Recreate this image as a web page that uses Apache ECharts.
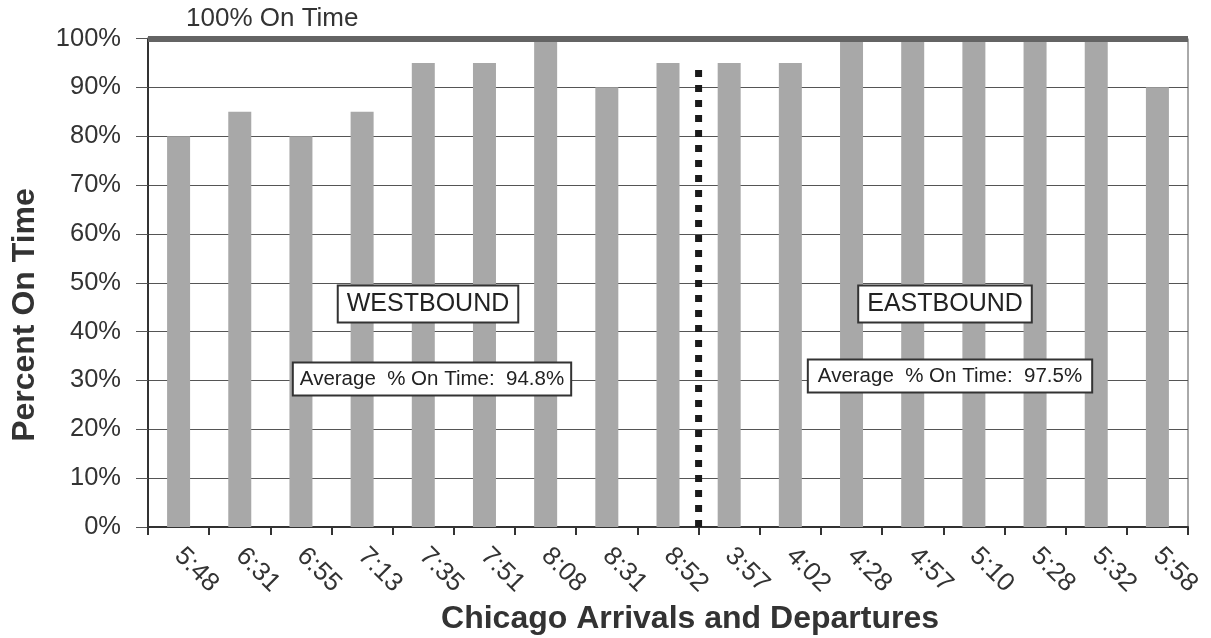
<!DOCTYPE html>
<html>
<head>
<meta charset="utf-8">
<script src="https://cdn.jsdelivr.net/npm/echarts@6/dist/echarts.min.js"></script>
<style>
  html, body { margin: 0; padding: 0; background: #fff; }
  #chart { width: 1211px; height: 638px; }
</style>
</head>
<body>
<div id="chart"></div>
<script>
// Train times at Chicago, westbound first then eastbound
const categories = ['5:48', '6:31', '6:55', '7:13', '7:35', '7:51', '8:08', '8:31', '8:52',
                    '3:57', '4:02', '4:28', '4:57', '5:10', '5:28', '5:32', '5:58'];
// Percent on time for each train
const onTime = [80, 85, 80, 85, 95, 95, 100, 90, 95,
                95, 95, 100, 100, 100, 100, 100, 90];
const yTicks = [0, 10, 20, 30, 40, 50, 60, 70, 80, 90, 100];
// Divider between westbound and eastbound (category boundary index) and its height
const dividerAt = 9;
const dividerTop = 94;
const westAvg = '94.8%';
const eastAvg = '97.5%';

const font = '"Liberation Sans", Arial, sans-serif';
const chart = echarts.init(document.getElementById('chart'));

function boxText(x, y, text, size, pad) {
  return {
    type: 'text', x: x, y: y, z: 100,
    style: {
      text: text, fontSize: size, fill: '#222', fontFamily: font,
      align: 'center', verticalAlign: 'middle',
      backgroundColor: '#fff', borderColor: '#333', borderWidth: 2, padding: pad
    }
  };
}

chart.setOption({
  animation: false,
  backgroundColor: '#ffffff',
  grid: {
    left: 148, right: 23, top: 38.5, bottom: 111,
    outerBoundsMode: 'none',
    show: true, borderColor: '#555', borderWidth: 1
  },
  xAxis: [{
    type: 'category',
    data: categories,
    axisLine: { lineStyle: { color: '#333', width: 2 } },
    axisTick: { show: true, length: 8, lineStyle: { color: '#333', width: 2 } },
    axisLabel: { rotate: -45, fontSize: 26, color: '#333', fontFamily: font, margin: 25 }
  }, {
    type: 'value', min: 0, max: categories.length, show: false
  }],
  yAxis: {
    type: 'value',
    min: 0, max: 100, interval: 10,
    axisLine: { show: true, lineStyle: { color: '#333', width: 2 } },
    axisTick: { show: true, inside: false, length: 12, lineStyle: { color: '#555' } },
    axisLabel: {
      formatter: v => (yTicks.includes(v) ? v + '%' : ''),
      fontSize: 25.5, color: '#333', fontFamily: font, margin: 27
    },
    splitLine: { lineStyle: { color: '#555', width: 1 } }
  },
  graphic: [
    { type: 'text', x: 25, y: 315, rotation: Math.PI / 2, z: 100,
      style: { text: 'Percent On Time', fontSize: 32, fontWeight: 'bold', fill: '#333', fontFamily: font,
               align: 'center', verticalAlign: 'middle' } },
    { type: 'text', x: 690, y: 619, z: 100,
      style: { text: 'Chicago Arrivals and Departures', fontSize: 32, fontWeight: 'bold', fill: '#333', fontFamily: font,
               align: 'center', verticalAlign: 'middle' } },
    { type: 'text', x: 186, y: 19, z: 100,
      style: { text: '100% On Time', fontSize: 26, fill: '#333', fontFamily: font, align: 'left', verticalAlign: 'middle' } },
    boxText(428, 304, 'WESTBOUND', 25, [5, 8, 5, 8]),
    boxText(432, 379, 'Average  % On Time:  ' + westAvg, 20.5, [5, 6, 5, 6]),
    boxText(945, 304, 'EASTBOUND', 25, [5, 8, 5, 8]),
    boxText(950, 376, 'Average  % On Time:  ' + eastAvg, 20.5, [5, 9, 5, 9])
  ],
  series: [{
    type: 'bar',
    data: onTime,
    barWidth: 23,
    itemStyle: { color: '#a8a8a8' },
    z: 3,
    markLine: {
      symbol: 'none',
      silent: true,
      data: [{ yAxis: 100 }],
      lineStyle: { type: 'solid', color: '#646464', width: 6 },
      label: { show: false }
    }
  }, {
    type: 'line',
    xAxisIndex: 1,
    data: [[dividerAt, 0], [dividerAt, dividerTop]],
    symbol: 'none',
    lineStyle: { color: '#1a1a1a', width: 7, type: [7, 8] },
    z: 4
  }]
});
</script>
</body>
</html>
